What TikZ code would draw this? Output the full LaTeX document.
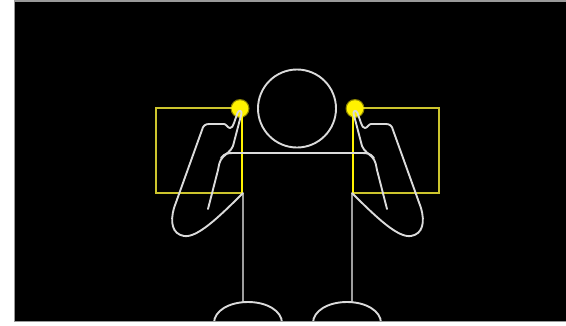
\documentclass[tikz,border=0pt]{standalone}
\begin{document}
\begin{tikzpicture}[x=1pt,y=-1pt,
  outline/.style={draw=white!86!black, line width=1.9pt, line cap=round, line join=round},
  bodyline/.style={draw=white!62!black, line width=1.9pt},
  zone/.style={draw=yellow!78!black, line width=1.8pt},
  zoneedge/.style={draw=yellow, line width=1.5pt},
  marker/.style={fill=yellow}]
\useasboundingbox (0,0) rectangle (566,325);
% frame
\fill[white] (0,0) rectangle (566,325);
\filldraw[fill=black, draw=white!60!black, line width=1.2pt] (14.5,1) rectangle (570,321.5);
\begin{scope}
\clip (15,1.6) rectangle (566,320.9);
% target zones beside the head
\draw[zone] (156,108) rectangle (242,193);
\draw[zone] (353,108) rectangle (439,193);
\draw[zoneedge] (242,109) -- (242,193);
\draw[zoneedge] (353,109) -- (353,193);
% fingertip markers with a soft halo
\foreach \cx in {240,355} {
  \fill[yellow, opacity=0.55] (\cx,108.5) circle (9.5);
  \fill[marker] (\cx,108.5) circle (8.3);
}
% head
\draw[outline] (297,108.5) circle (39);
% shoulders
\draw[outline] (221,158) .. controls (225,153) and (228,153) .. (234,153)
  -- (361,153) .. controls (367,153) and (370,153) .. (374,158);
% torso sides and feet
\draw[bodyline] (243,193) -- (243,302);
\draw[bodyline] (352,193) -- (352,302);
\draw[outline] (214,323) .. controls (214,311) and (229,302) .. (248,302)
  .. controls (267,302) and (282,311) .. (282,323);
\draw[outline] (313,323) .. controls (313,311) and (328,302) .. (347,302)
  .. controls (366,302) and (381,311) .. (381,323);
% arms: left one drawn, right one mirrored about the body axis
\foreach \flip/\shift in {1/0, -1/595} {
  \begin{scope}[xshift=\shift, xscale=\flip]
    \draw[outline] (243,193) .. controls (218,218) and (197,238) .. (184,236)
      .. controls (172,234) and (170,222) .. (174,208)
      -- (202,130) .. controls (203,126) and (205,124) .. (209,124)
      -- (224,124) .. controls (226,124) and (228,128) .. (230,128)
      .. controls (232,128) and (233,126) .. (234,123)
      -- (237.5,113) .. controls (238.5,110) and (242,110) .. (241.5,113.5)
      -- (233,146) .. controls (231,151) and (226,154) .. (223,157)
      .. controls (219,161) and (219,166) .. (218,170)
      -- (208,209);
  \end{scope}
}
\end{scope}
\end{tikzpicture}
\end{document}
